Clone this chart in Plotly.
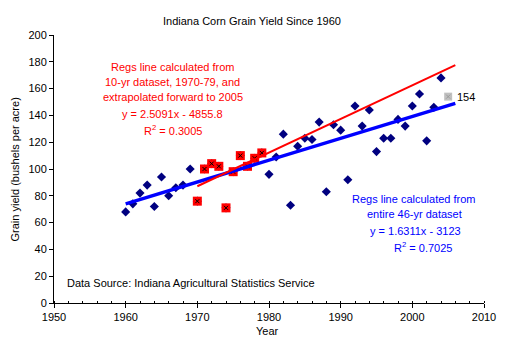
import numpy as np
import plotly.graph_objects as go

# Indiana corn grain yield, bushels per acre
years = list(range(1960, 2006))
yields = [68, 74, 82, 88, 72, 94, 80, 86, 88, 100,
          76, 100, 104, 102, 71, 98, 110, 102, 108, 112,
          96, 109, 126, 73, 117, 123, 122, 135, 83, 133,
          129, 92, 147, 132, 144, 113, 123, 123, 137, 132,
          147, 156, 121, 146, 168, 154]
decade_years = list(range(1970, 1980))
fit_all = (1.6311, -3123.0)    # regression over the whole 46-yr set
fit_70s = (2.5091, -4855.8)    # regression over 1970-79 only
r2_all = 0.7025
r2_70s = 0.3005
forecast = 1                   # trendlines run one period past the last year

FONT = "Liberation Sans, Arial, sans-serif"

yr = np.array(years)
yv = np.array(yields)
in_70s = (yr >= decade_years[0]) & (yr <= decade_years[-1])
last = yr == yr[-1]
rest = ~last

fig = go.Figure()
fig.add_trace(go.Scatter(x=yr[rest], y=yv[rest], mode="markers",
                         marker=dict(symbol="diamond", size=7, color="#000080")))
fig.add_trace(go.Scatter(x=yr[in_70s], y=yv[in_70s], mode="markers",
                         marker=dict(symbol="square", size=9, color="#FF0000")))
fig.add_trace(go.Scatter(x=yr[in_70s], y=yv[in_70s], mode="markers",
                         marker=dict(symbol="x-thin", size=4, line=dict(width=1, color="black"))))
fig.add_trace(go.Scatter(x=yr[last], y=yv[last], mode="markers",
                         marker=dict(symbol="square", size=8, color="#C0C0C0")))
fig.add_trace(go.Scatter(x=yr[last], y=yv[last], mode="markers",
                         marker=dict(symbol="x-thin", size=4, line=dict(width=1, color="#9A9A9A"))))

# trend lines from the reported equations
xa = np.array([years[0], years[-1] + forecast])
fig.add_trace(go.Scatter(x=xa, y=fit_all[0] * xa + fit_all[1], mode="lines",
                         line=dict(color="#0000FF", width=3.5)))
xr = np.array([decade_years[0], years[-1] + forecast])
fig.add_trace(go.Scatter(x=xr, y=fit_70s[0] * xr + fit_70s[1], mode="lines",
                         line=dict(color="#FF0000", width=2)))

def note(x, y, text, color="black", anchor="center", ref="data", angle=0):
    fig.add_annotation(x=x, y=y, text=text, showarrow=False, xanchor=anchor, yanchor="middle",
                       xref="x" if ref == "data" else "paper", yref="y" if ref == "data" else "paper",
                       textangle=angle, font=dict(family=FONT, size=11, color=color))

red_lines = ["Regs line calculated from", "10-yr dataset, 1970-79, and",
             "extrapolated forward to 2005",
             f"y = {fit_70s[0]:.4f}x - {-fit_70s[1]:.1f}", f"R<sup>2</sup> = {r2_70s:.4f}"]
for t, yy in zip(red_lines, [176.1, 164.6, 153.8, 141.3, 129.4]):
    note(1966.6, yy, t, "#FF0000")

blue_lines = ["Regs line calculated from", "entire 46-yr dataset",
              f"y = {fit_all[0]:.4f}x - {-fit_all[1]:.0f}", f"R<sup>2</sup> = {r2_all:.4f}"]
for t, xx, yy in zip(blue_lines, [2000.3, 2000.3, 2000.4, 2001.5], [77.7, 66.7, 53.5, 41.9]):
    note(xx, yy, t, "#0000FF")

fig.add_annotation(x=years[-1], y=yields[-1], text=str(yields[-1]), showarrow=False,
                   xanchor="left", yanchor="middle", xshift=7,
                   font=dict(family=FONT, size=11, color="black"))
note(1951.6, 15.1, "Data Source: Indiana Agricultural Statistics Service", anchor="left")
note(0.4615, 1.0515, "Indiana Corn Grain Yield Since 1960", ref="paper")
note(0.496, -0.106, "Year", ref="paper")
note(-0.0896, 0.5, "Grain yield (bushels per acre)", ref="paper", angle=-90)

# the page body adds an 8px margin, so the figure is sized to sit inside it
fig.update_layout(
    width=500, height=331, showlegend=False,
    paper_bgcolor="white", plot_bgcolor="white",
    margin=dict(l=46, r=13, t=27, b=36),
    font=dict(family=FONT, size=11, color="black"),
)
fig.update_xaxes(range=[1950, 2010], dtick=10, tick0=1950, showgrid=False, zeroline=False,
                 showline=True, linecolor="black", linewidth=1, ticks="outside", ticklen=4,
                 tickcolor="black", minor=dict(dtick=2, ticks="inside", ticklen=2, tickcolor="black"))
fig.update_yaxes(range=[0, 200], dtick=20, showgrid=False, zeroline=False,
                 showline=True, linecolor="black", linewidth=1, ticks="outside", ticklen=4,
                 tickcolor="black")

fig.write_html("out.html")
